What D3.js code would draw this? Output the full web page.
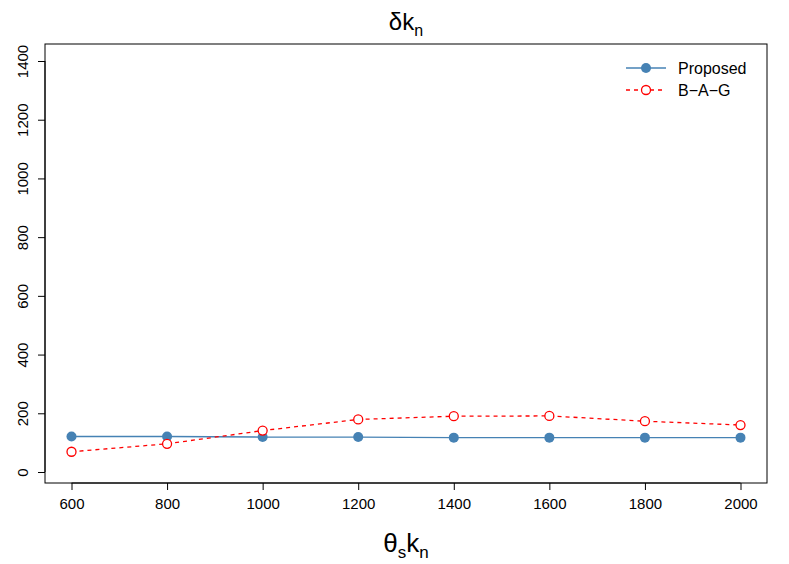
<!DOCTYPE html><html><head><script src="https://cdn.jsdelivr.net/npm/d3@7"></script>
<style>body{margin:0;background:#fff}text{font-family:"Liberation Sans",Arial,sans-serif}</style></head><body>
<svg id="c" width="789" height="564"></svg>
<script>
const xs=[600,800,1000,1200,1400,1600,1800,2000];
const proposed=[121,121,119,119,117,117,117,117];
const bag=[69,96,141,179,190,191,173,160];
const yTicks=[0,200,400,600,800,1000,1200,1400];
const svg=d3.select("#c");
const L=45,R=767,T=44,B=483;
const x=d3.scaleLinear().domain([600,2000]).range([71.5,740.5]);
const y=d3.scaleLinear().domain([0,1400]).range([472,61]);
svg.append("rect").attr("x",L).attr("y",T).attr("width",R-L).attr("height",B-T).attr("fill","none").attr("stroke","#000");
const xa=svg.append("g").attr("transform",`translate(0,${B})`).call(d3.axisBottom(x).tickValues(xs).tickSize(7).tickPadding(8).tickFormat(d3.format("d")));
const ya=svg.append("g").attr("transform",`translate(${L},0)`).call(d3.axisLeft(y).tickValues(yTicks).tickSize(7).tickFormat(d3.format("d")));
ya.selectAll(".tick text").attr("transform","translate(-17,0) rotate(-90)").attr("x",0).attr("y",0).attr("dy",0).attr("text-anchor","middle");
[xa,ya].forEach(a=>{a.selectAll("text").style("font-size","15px").attr("fill","#000");a.select(".domain").remove();a.selectAll("line").attr("stroke","#000");});
svg.append("line").attr("x1",x(600)).attr("x2",x(2000)).attr("y1",B).attr("y2",B).attr("stroke","#000");
svg.append("line").attr("x1",L).attr("x2",L).attr("y1",y(0)).attr("y2",y(1400)).attr("stroke","#000");
const line=d3.line().x((d,i)=>x(xs[i])).y(d=>y(d));
svg.append("path").attr("d",line(proposed)).attr("fill","none").attr("stroke","steelblue").attr("stroke-width",1.3);
svg.selectAll(".p").data(proposed).enter().append("circle").attr("cx",(d,i)=>x(xs[i])).attr("cy",d=>y(d)).attr("r",5).attr("fill","steelblue");
svg.append("path").attr("d",line(bag)).attr("fill","none").attr("stroke","red").attr("stroke-width",1.3).attr("stroke-dasharray","4,4");
svg.selectAll(".b").data(bag).enter().append("circle").attr("cx",(d,i)=>x(xs[i])).attr("cy",d=>y(d)).attr("r",4.5).attr("fill","#fff").attr("stroke","red").attr("stroke-width",1.3);
svg.append("line").attr("x1",626).attr("x2",666).attr("y1",68).attr("y2",68).attr("stroke","steelblue").attr("stroke-width",1.3);
svg.append("circle").attr("cx",646).attr("cy",68).attr("r",5).attr("fill","steelblue");
svg.append("line").attr("x1",626).attr("x2",666).attr("y1",90).attr("y2",90).attr("stroke","red").attr("stroke-width",1.3).attr("stroke-dasharray","4,4");
svg.append("circle").attr("cx",646).attr("cy",90).attr("r",4.5).attr("fill","#fff").attr("stroke","red").attr("stroke-width",1.3);
svg.append("text").attr("x",678).attr("y",74).style("font-size","16px").text("Proposed");
svg.append("text").attr("x",678).attr("y",96).style("font-size","16px").text("B\u2212A\u2212G");
const tt=svg.append("text").attr("x",406).attr("y",30).attr("text-anchor","middle").style("font-size","24px");
tt.append("tspan").text("\u03b4k");tt.append("tspan").style("font-size","16px").attr("dy",6).text("n");
const xt=svg.append("text").attr("x",406).attr("y",552).attr("text-anchor","middle").style("font-size","26px");
xt.append("tspan").text("\u03b8");xt.append("tspan").style("font-size","17px").attr("dy",6).text("s");xt.append("tspan").attr("dy",-6).text("k");xt.append("tspan").style("font-size","17px").attr("dy",6).text("n");
</script></body></html>
